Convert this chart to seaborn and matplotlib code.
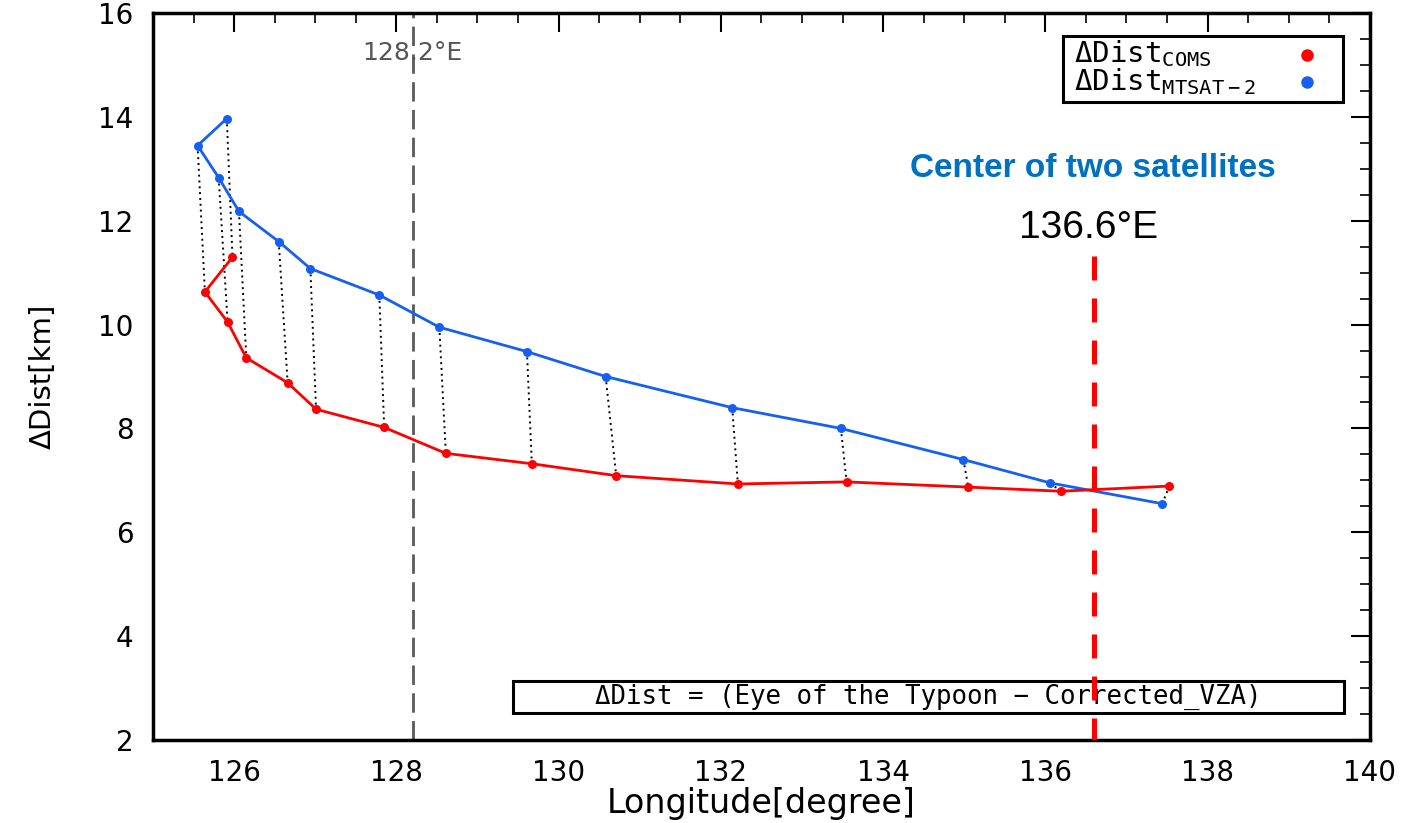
import numpy as np
import pandas as pd
import matplotlib
matplotlib.use("Agg")
import matplotlib.pyplot as plt
import seaborn as sns
from matplotlib.ticker import MultipleLocator
from matplotlib.patches import Rectangle

# ---- data ----
lon_coms = [125.98, 125.64, 125.92, 126.15, 126.66, 127.01, 127.85, 128.61,
            129.67, 130.71, 132.21, 133.55, 135.05, 136.19, 137.53]
dist_coms = [11.30, 10.63, 10.05, 9.36, 8.88, 8.37, 8.02, 7.52,
             7.32, 7.09, 6.93, 6.97, 6.87, 6.79, 6.89]
lon_mtsat = [125.91, 125.55, 125.81, 126.06, 126.55, 126.94, 127.79, 128.53,
             129.61, 130.58, 132.14, 133.48, 134.99, 136.06, 137.44]
dist_mtsat = [13.97, 13.45, 12.83, 12.18, 11.60, 11.08, 10.57, 9.95,
              9.48, 9.00, 8.40, 8.00, 7.40, 6.95, 6.55]
ref_line = 128.2
center_line = 136.6
center_line_top = 11.33
x_ticks = [126, 128, 130, 132, 134, 136, 138, 140]
y_ticks = [2, 4, 6, 8, 10, 12, 14, 16]

RED = "#ff0000"
BLUE = "#1560f0"

sns.set_theme(style="white")
plt.rcParams['font.family'] = ['DejaVu Sans']
plt.rcParams['text.color'] = 'black'
plt.rcParams['axes.labelcolor'] = 'black'
plt.rcParams['xtick.color'] = 'black'
plt.rcParams['ytick.color'] = 'black'

fig = plt.figure(figsize=(14.10, 8.23), dpi=100)
ax = fig.add_axes([0.1085, 0.101, 0.863, 0.883])

df_c = pd.DataFrame({"lon": lon_coms, "dist": dist_coms})
df_m = pd.DataFrame({"lon": lon_mtsat, "dist": dist_mtsat})

# dotted connectors
for xm, ym, xc, yc in zip(lon_mtsat, dist_mtsat, lon_coms, dist_coms):
    ax.plot([xm, xc], [ym, yc], color="black", linestyle=(0, (1, 2)), linewidth=1.4, zorder=1)

sns.lineplot(data=df_m, x="lon", y="dist", sort=False, estimator=None, color=BLUE,
             linewidth=2, marker="o", markersize=6.5, markeredgewidth=0, ax=ax, zorder=3)
sns.lineplot(data=df_c, x="lon", y="dist", sort=False, estimator=None, color=RED,
             linewidth=2, marker="o", markersize=6.5, markeredgewidth=0, ax=ax, zorder=3)

# reference lines
ax.axvline(ref_line, color="#5a5a5a", linestyle=(0, (7, 3)), linewidth=2, zorder=2)
ax.text(ref_line, 15.23, "128.2°E", ha="center", va="center", fontsize=18, color="#555555",
        family="DejaVu Sans")
ax.plot([center_line, center_line], [center_line_top, 2], color=RED, linestyle=(0, (4.8, 3.6)),
        linewidth=3.6, zorder=8, solid_capstyle="butt", dash_capstyle="butt")
ax.text(center_line - 0.07, 11.86, "136.6°E", ha="center", va="center", fontsize=28,
        color="black", family="Liberation Sans")
ax.text(136.58, 13.0, "Center of two satellites", ha="center", va="center", fontsize=24,
        fontweight="bold", color="#0070c0", family="Liberation Sans")

# legend box (drawn in axes coordinates)
ax.add_patch(Rectangle((0.748, 0.878), 0.230, 0.090, transform=ax.transAxes,
                       facecolor="white", edgecolor="black", linewidth=2.2, zorder=5))
ax.text(0.757, 0.933, r"ΔDist$_{\mathtt{COMS}}$", transform=ax.transAxes, ha="left",
        va="baseline", fontsize=21, family="DejaVu Sans Mono", zorder=6)
ax.text(0.757, 0.894, r"ΔDist$_{\mathtt{MTSAT-2}}$", transform=ax.transAxes, ha="left",
        va="baseline", fontsize=21, family="DejaVu Sans Mono", zorder=6)
ax.plot([0.948], [0.942], transform=ax.transAxes, marker="o", color=RED, markersize=9,
        markeredgewidth=0, linestyle="none", zorder=6)
ax.plot([0.948], [0.905], transform=ax.transAxes, marker="o", color=BLUE, markersize=9,
        markeredgewidth=0, linestyle="none", zorder=6)

# formula box
ax.add_patch(Rectangle((0.296, 0.037), 0.683, 0.044, transform=ax.transAxes,
                       facecolor="white", edgecolor="black", linewidth=2.2, zorder=5))
ax.text(0.6375, 0.059, "ΔDist = (Eye of the Typoon − Corrected_VZA)", transform=ax.transAxes,
        ha="center", va="center", fontsize=18.5, family="DejaVu Sans Mono", zorder=6)

ax.set_xlim(125, 140)
ax.set_ylim(2, 16)
ax.set_xticks(x_ticks)
ax.set_yticks(y_ticks)
ax.xaxis.set_minor_locator(MultipleLocator(0.5))
ax.yaxis.set_minor_locator(MultipleLocator(0.5))
ax.tick_params(which="both", direction="in", top=True, right=True, color="black")
ax.tick_params(which="major", length=14, width=1.5, labelsize=20, pad=14, labelcolor="black")
ax.tick_params(which="minor", length=7, width=1.2)
for s in ax.spines.values():
    s.set_color("black")
    s.set_linewidth(2.5)
ax.set_xlabel("Longitude[degree]", fontsize=24, labelpad=0, color="black")
ax.set_ylabel("ΔDist[km]", fontsize=21, labelpad=30, color="black")

fig.savefig("out.png", dpi=100)
